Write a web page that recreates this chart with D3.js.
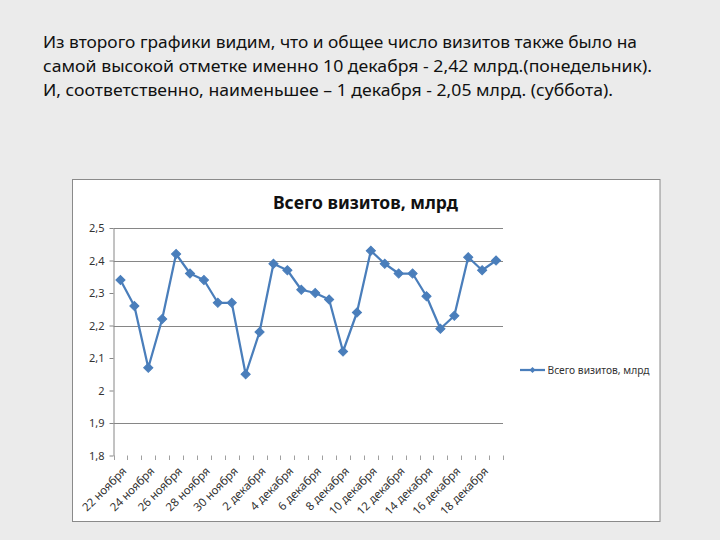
<!DOCTYPE html>
<html>
<head>
<meta charset="utf-8">
<script src="https://cdn.jsdelivr.net/npm/d3@7"></script>
<style>
  html, body { margin: 0; padding: 0; background: #ebebeb; }
  svg { display: block; }
</style>
</head>
<body>
<svg id="chart" width="720" height="540"></svg>
<script>
// ---- data ----
const categories = [
  "22 ноября","23 ноября","24 ноября","25 ноября","26 ноября","27 ноября","28 ноября",
  "29 ноября","30 ноября","1 декабря","2 декабря","3 декабря","4 декабря","5 декабря",
  "6 декабря","7 декабря","8 декабря","9 декабря","10 декабря","11 декабря","12 декабря",
  "13 декабря","14 декабря","15 декабря","16 декабря","17 декабря","18 декабря","19 декабря"
];
const visits = [
  2.34, 2.26, 2.07, 2.22, 2.42, 2.36, 2.34, 2.27, 2.27, 2.05, 2.18, 2.39, 2.37, 2.31,
  2.30, 2.28, 2.12, 2.24, 2.43, 2.39, 2.36, 2.36, 2.29, 2.19, 2.23, 2.41, 2.37, 2.40
];
const yTicks = [1.8, 1.9, 2.0, 2.1, 2.2, 2.3, 2.4, 2.5];
const gridValues = [1.9, 2.2, 2.4, 2.5];
const seriesName = "Всего визитов, млрд";
const chartTitle = "Всего визитов, млрд";
const introLines = [
  "Из второго графики видим, что и общее число визитов также было на",
  "самой высокой отметке именно 10 декабря - 2,42 млрд.(понедельник).",
  "И, соответственно, наименьшее – 1 декабря - 2,05 млрд. (суббота)."
];
const introWidths = [594, 609, 570];

// ---- drawing ----
const svg = d3.select("#chart");
const font = "'Noto Sans', 'Open Sans', sans-serif";

// intro text
svg.append("g").selectAll("text").data(introLines).join("text")
  .attr("x", 43)
  .attr("y", (d, i) => 48 + i * 24)
  .attr("font-family", font)
  .attr("font-size", 16)
  .attr("fill", "#111")
  .attr("textLength", (d, i) => introWidths[i])
  .attr("lengthAdjust", "spacingAndGlyphs")
  .text(d => d);

// chart box
svg.append("rect")
  .attr("x", 72.5).attr("y", 179.5)
  .attr("width", 587.5).attr("height", 342)
  .attr("fill", "#ffffff")
  .attr("stroke", "#8a8a8a").attr("stroke-width", 1);

// title
svg.append("text")
  .attr("x", 365.5).attr("y", 209)
  .attr("text-anchor", "middle")
  .attr("font-family", font)
  .attr("font-weight", "bold")
  .attr("font-size", 17)
  .attr("fill", "#111")
  .attr("textLength", 185)
  .attr("lengthAdjust", "spacingAndGlyphs")
  .text(chartTitle);

// scales
const x = d3.scaleBand().domain(categories).range([113.5, 503]).padding(0);
const y = d3.scaleLinear().domain([1.8, 2.5]).range([455.5, 228]);
const cx = d => x(d) + x.bandwidth() / 2;

// gridlines
svg.append("g").selectAll("line").data(gridValues).join("line")
  .attr("x1", 113.5).attr("x2", 503)
  .attr("y1", d => Math.round(y(d)) + 0.5).attr("y2", d => Math.round(y(d)) + 0.5)
  .attr("stroke", "#868686").attr("stroke-width", 1);

// y axis
const yAxis = d3.axisLeft(y).tickValues(yTicks).tickSize(4).tickSizeOuter(0)
  .tickFormat(d => d3.format(".1~f")(d).replace(".", ","));
const gy = svg.append("g").attr("transform", "translate(113.5,0)").call(yAxis);
gy.select(".domain").attr("stroke", "#868686");
gy.selectAll(".tick line").attr("stroke", "#868686");
gy.selectAll(".tick text")
  .attr("font-family", font).attr("font-size", 11).attr("fill", "#333").attr("x", -9);

// x axis ticks (category boundaries)
const bounds = d3.range(categories.length + 1).map(i => 113.5 + i * x.bandwidth());
svg.append("g").selectAll("line").data(bounds).join("line")
  .attr("x1", d => Math.round(d) + 0.5).attr("x2", d => Math.round(d) + 0.5)
  .attr("y1", 455.5).attr("y2", 460)
  .attr("stroke", "#a0a0a0").attr("stroke-width", 1);

// x labels every second category
svg.append("g").selectAll("text")
  .data(categories.filter((d, i) => i % 2 === 0)).join("text")
  .attr("transform", d => `translate(${cx(d) + 4},${469}) rotate(-45)`)
  .attr("text-anchor", "end")
  .attr("dy", "0.35em")
  .attr("font-family", font).attr("font-size", 11.5).attr("fill", "#333")
  .text(d => d);

// series line
const color = "#4a7ebb";
const line = d3.line().x((d, i) => cx(categories[i])).y(d => y(d));
svg.append("path").datum(visits)
  .attr("d", line)
  .attr("fill", "none").attr("stroke", color).attr("stroke-width", 2.25)
  .attr("stroke-linejoin", "round");

// markers (square rotated 45°)
const diamond = d3.symbol().type(d3.symbolSquare).size(42);
svg.append("g").selectAll("path").data(visits).join("path")
  .attr("transform", (d, i) => `translate(${cx(categories[i])},${y(d)}) rotate(45)`)
  .attr("d", diamond)
  .attr("fill", color).attr("stroke", color).attr("stroke-width", 1);

// legend
const lg = svg.append("g").attr("transform", "translate(520,370)");
lg.append("line").attr("x1", 0).attr("x2", 25).attr("y1", 0).attr("y2", 0)
  .attr("stroke", color).attr("stroke-width", 2.25);
lg.append("path").attr("transform", "translate(12.5,0) rotate(45)")
  .attr("d", d3.symbol().type(d3.symbolSquare).size(18))
  .attr("fill", color);
lg.append("text").attr("x", 27.5).attr("y", 0).attr("dy", "0.35em")
  .attr("font-family", font).attr("font-size", 10).attr("fill", "#333")
  .attr("textLength", 102).attr("lengthAdjust", "spacingAndGlyphs")
  .text(seriesName);
</script>
</body>
</html>
